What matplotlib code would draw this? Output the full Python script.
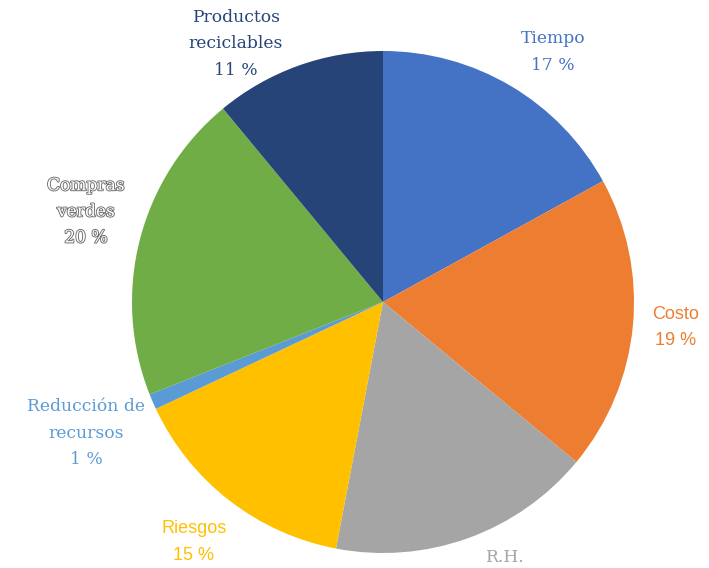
import matplotlib
matplotlib.use("Agg")
import matplotlib.pyplot as plt
import matplotlib.patheffects as pe

categories = ["Tiempo", "Costo", "R.H.", "Riesgos", "Reducción de\nrecursos",
              "Compras\nverdes", "Productos\nreciclables"]
values = [17, 19, 17, 15, 1, 20, 11]
colors = ["#4472C4", "#ED7D31", "#A5A5A5", "#FFC000", "#5B9BD5", "#70AD47", "#264478"]
text_colors = ["#4472C4", "#ED7D31", "#A5A5A5", "#FFC000", "#5B9BD5", "#FFFFFF", "#264478"]
serif_labels = [True, False, True, False, True, True, True]
show_value = [True, True, False, True, True, True, True]

# label anchor positions in units of the pie radius
label_pos = [(0.677, 0.996), (1.167, -0.100), (0.482, -1.016), (-0.753, -0.956),
             (-1.183, -0.522), (-1.183, 0.359), (-0.586, 1.028)]

W, H = 709, 568
fig = plt.figure(figsize=(W / 100, H / 100), dpi=100)
cx, cy, r = 383, 568 - 302, 251
ax = fig.add_axes([(cx - r) / W, (cy - r) / H, 2 * r / W, 2 * r / H])

ax.pie(values, colors=colors, startangle=90, counterclock=False, radius=1,
       wedgeprops=dict(linewidth=0))
ax.set_xlim(-1, 1)
ax.set_ylim(-1, 1)
ax.set_aspect("equal")
ax.axis("off")

for name, val, tc, serif, shown, (lx, ly) in zip(categories, values, text_colors,
                                                 serif_labels, show_value, label_pos):
    if serif:
        family, size = ["DejaVu Serif"], 12.3
    else:
        family, size = ["Liberation Sans"], 13
    label = f"{name}\n{val} %" if shown else name
    t = ax.text(lx, ly, label, ha="center", va="center",
                multialignment="center", color=tc, fontsize=size,
                family=family, linespacing=1.7, clip_on=False)
    if tc == "#FFFFFF":
        t.set_path_effects([pe.Stroke(linewidth=1.3, foreground="#6b6b6b"), pe.Normal()])

fig.savefig("out.png", dpi=100)
